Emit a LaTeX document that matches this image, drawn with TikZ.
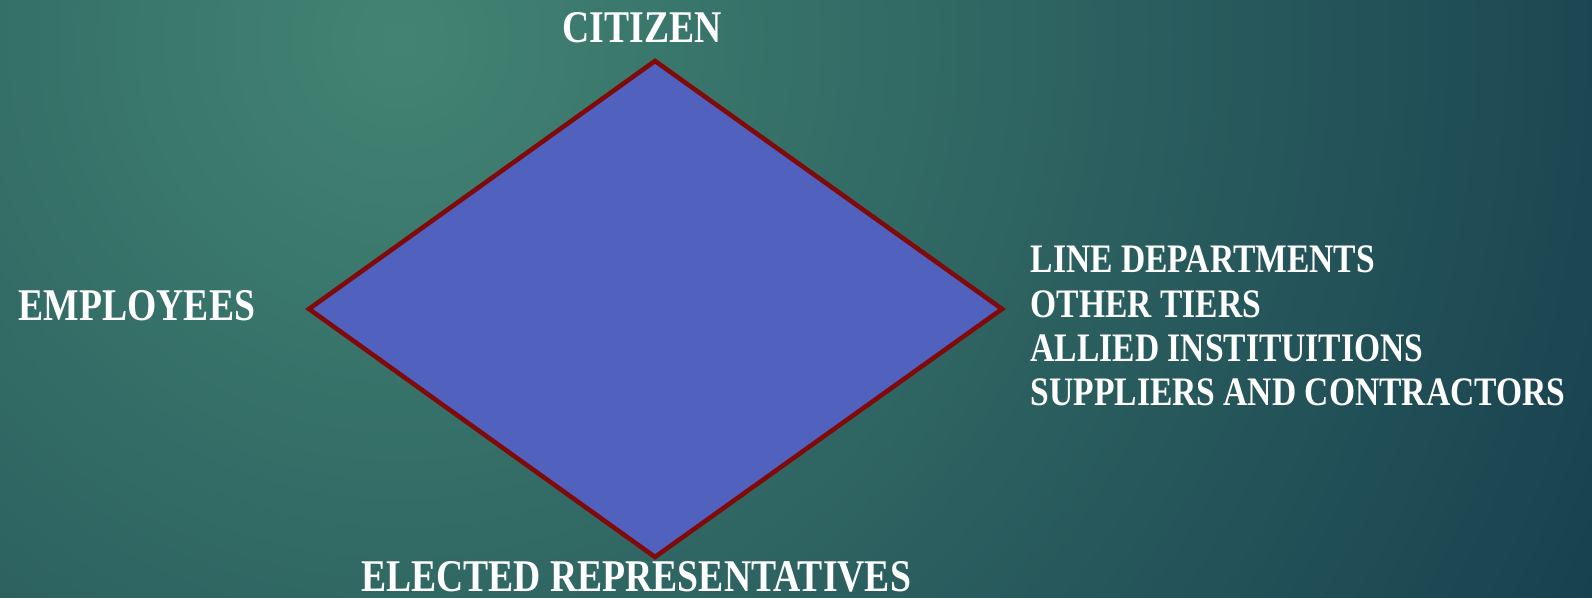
\documentclass[tikz,border=0pt]{standalone}
\usepackage{fontspec}
\setmainfont{Liberation Serif}[FakeStretch=0.83]
\usepackage{xcolor}
\definecolor{bginner}{HTML}{428473}
\definecolor{bgouter}{HTML}{173F4E}
\definecolor{kitefill}{HTML}{5062BE}
\definecolor{kiteedge}{HTML}{800A0A}
\usepackage{tikz}
\usetikzlibrary{positioning}

\begin{document}
\begin{tikzpicture}[x=0.01cm, y=-0.01cm,
  stakeholder/.style={text=white, font=\fontsize{12.9}{12.7}\selectfont\bfseries, inner sep=0pt},
  partnerlist/.style={stakeholder, font=\fontsize{11.5}{12.65}\selectfont\bfseries, align=left}]
  % background
  \useasboundingbox (0,0) rectangle (1592,598);
  \begin{scope}
    \clip (0,0) rectangle (1592,598);
    \fill[bgouter] (0,0) rectangle (1592,598);
    \shade[inner color=bginner, outer color=bgouter] (400,40) circle (1350);
  \end{scope}
  % the kite
  \coordinate (top) at (655,61);
  \coordinate (right) at (1002,309);
  \coordinate (bottom) at (655,557);
  \coordinate (left) at (309,309);
  \filldraw[fill=kitefill, draw=kiteedge, line width=1.3pt, line join=miter]
    (top) -- (right) -- (bottom) -- (left) -- cycle;
  % labels
  \node[stakeholder, anchor=base] (citizen) at (642,43) {CITIZEN};
  \node[stakeholder, anchor=base west] (employees) at (18,321) {EMPLOYEES};
  \node[partnerlist, anchor=base west] (partners) at (1030,406)
    {LINE DEPARTMENTS\\OTHER TIERS\\ALLIED INSTITUITIONS\\SUPPLIERS AND CONTRACTORS};
  \node[stakeholder, anchor=base] (elected) at (636,591) {ELECTED REPRESENTATIVES};
\end{tikzpicture}
\end{document}
